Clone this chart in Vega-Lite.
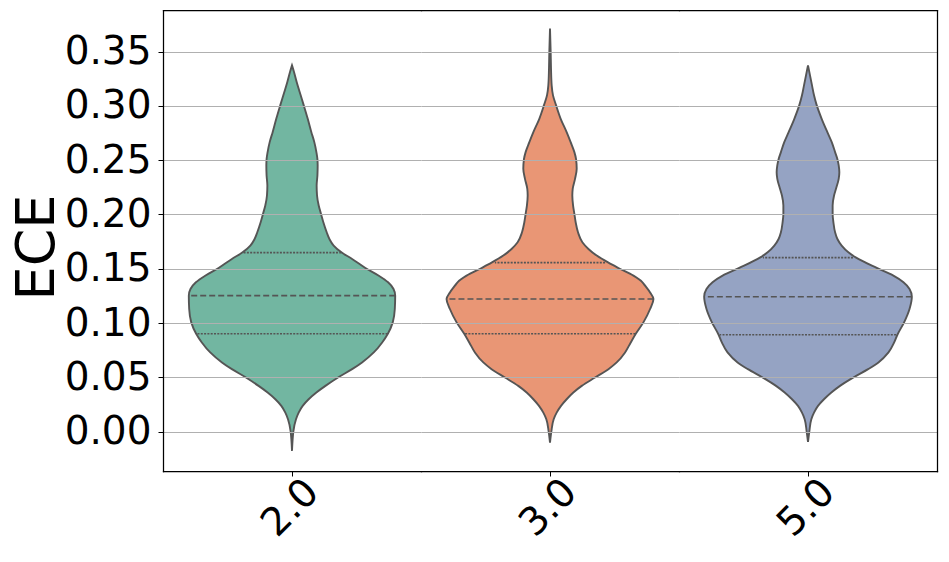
{
  "$schema": "https://vega.github.io/schema/vega-lite/v6.json",
  "padding": {"left": 10, "top": 10, "right": 9, "bottom": 5},
  "spacing": 0,
  "bounds": "flush",
  "config": {
    "view": {"stroke": null},
    "font": "DejaVu Sans",
    "axis": {"labelFont": "DejaVu Sans", "titleFont": "DejaVu Sans", "domainColor": "black", "domainWidth": 1.25, "domainCap": "square", "tickColor": "black", "gridColor": "#b0b0b0", "gridWidth": 1}
  },
  "datasets": {
    "violin": [
      {"cat": "2.0", "y": -0.0178, "w": 0},
      {"cat": "2.0", "y": -0.0071, "w": 0.005},
      {"cat": "2.0", "y": 0.0, "w": 0.0103},
      {"cat": "2.0", "y": 0.0114, "w": 0.031},
      {"cat": "2.0", "y": 0.0175, "w": 0.0517},
      {"cat": "2.0", "y": 0.0237, "w": 0.0828},
      {"cat": "2.0", "y": 0.0298, "w": 0.129},
      {"cat": "2.0", "y": 0.036, "w": 0.189},
      {"cat": "2.0", "y": 0.0421, "w": 0.259},
      {"cat": "2.0", "y": 0.0498, "w": 0.357},
      {"cat": "2.0", "y": 0.0575, "w": 0.466},
      {"cat": "2.0", "y": 0.0637, "w": 0.543},
      {"cat": "2.0", "y": 0.0729, "w": 0.634},
      {"cat": "2.0", "y": 0.0821, "w": 0.699},
      {"cat": "2.0", "y": 0.0901, "w": 0.743},
      {"cat": "2.0", "y": 0.1006, "w": 0.781},
      {"cat": "2.0", "y": 0.1129, "w": 0.797},
      {"cat": "2.0", "y": 0.1252, "w": 0.8},
      {"cat": "2.0", "y": 0.1313, "w": 0.787},
      {"cat": "2.0", "y": 0.1375, "w": 0.745},
      {"cat": "2.0", "y": 0.1436, "w": 0.673},
      {"cat": "2.0", "y": 0.1507, "w": 0.569},
      {"cat": "2.0", "y": 0.159, "w": 0.466},
      {"cat": "2.0", "y": 0.1651, "w": 0.383},
      {"cat": "2.0", "y": 0.1713, "w": 0.323},
      {"cat": "2.0", "y": 0.1774, "w": 0.29},
      {"cat": "2.0", "y": 0.1836, "w": 0.269},
      {"cat": "2.0", "y": 0.1928, "w": 0.243},
      {"cat": "2.0", "y": 0.2005, "w": 0.225},
      {"cat": "2.0", "y": 0.2082, "w": 0.207},
      {"cat": "2.0", "y": 0.2174, "w": 0.194},
      {"cat": "2.0", "y": 0.2266, "w": 0.191},
      {"cat": "2.0", "y": 0.2359, "w": 0.197},
      {"cat": "2.0", "y": 0.2451, "w": 0.199},
      {"cat": "2.0", "y": 0.2509, "w": 0.197},
      {"cat": "2.0", "y": 0.2574, "w": 0.189},
      {"cat": "2.0", "y": 0.2666, "w": 0.173},
      {"cat": "2.0", "y": 0.2758, "w": 0.15},
      {"cat": "2.0", "y": 0.2881, "w": 0.122},
      {"cat": "2.0", "y": 0.3007, "w": 0.0906},
      {"cat": "2.0", "y": 0.3127, "w": 0.0595},
      {"cat": "2.0", "y": 0.322, "w": 0.0362},
      {"cat": "2.0", "y": 0.3312, "w": 0.0155},
      {"cat": "2.0", "y": 0.3373, "w": 0},
      {"cat": "3.0", "y": -0.0102, "w": 0},
      {"cat": "3.0", "y": 0.0, "w": 0.0103},
      {"cat": "3.0", "y": 0.0114, "w": 0.0285},
      {"cat": "3.0", "y": 0.0175, "w": 0.0517},
      {"cat": "3.0", "y": 0.0237, "w": 0.0854},
      {"cat": "3.0", "y": 0.0298, "w": 0.129},
      {"cat": "3.0", "y": 0.036, "w": 0.181},
      {"cat": "3.0", "y": 0.0421, "w": 0.246},
      {"cat": "3.0", "y": 0.0498, "w": 0.349},
      {"cat": "3.0", "y": 0.0575, "w": 0.453},
      {"cat": "3.0", "y": 0.0637, "w": 0.517},
      {"cat": "3.0", "y": 0.0729, "w": 0.582},
      {"cat": "3.0", "y": 0.0821, "w": 0.626},
      {"cat": "3.0", "y": 0.0901, "w": 0.665},
      {"cat": "3.0", "y": 0.1006, "w": 0.724},
      {"cat": "3.0", "y": 0.1129, "w": 0.776},
      {"cat": "3.0", "y": 0.1221, "w": 0.802},
      {"cat": "3.0", "y": 0.1282, "w": 0.776},
      {"cat": "3.0", "y": 0.1344, "w": 0.737},
      {"cat": "3.0", "y": 0.1375, "w": 0.717},
      {"cat": "3.0", "y": 0.1436, "w": 0.647},
      {"cat": "3.0", "y": 0.1507, "w": 0.53},
      {"cat": "3.0", "y": 0.1556, "w": 0.453},
      {"cat": "3.0", "y": 0.1621, "w": 0.362},
      {"cat": "3.0", "y": 0.1682, "w": 0.298},
      {"cat": "3.0", "y": 0.1744, "w": 0.251},
      {"cat": "3.0", "y": 0.1836, "w": 0.217},
      {"cat": "3.0", "y": 0.1928, "w": 0.199},
      {"cat": "3.0", "y": 0.2005, "w": 0.189},
      {"cat": "3.0", "y": 0.2082, "w": 0.179},
      {"cat": "3.0", "y": 0.2174, "w": 0.173},
      {"cat": "3.0", "y": 0.2236, "w": 0.176},
      {"cat": "3.0", "y": 0.2328, "w": 0.194},
      {"cat": "3.0", "y": 0.242, "w": 0.207},
      {"cat": "3.0", "y": 0.2509, "w": 0.202},
      {"cat": "3.0", "y": 0.2574, "w": 0.189},
      {"cat": "3.0", "y": 0.2666, "w": 0.16},
      {"cat": "3.0", "y": 0.2758, "w": 0.129},
      {"cat": "3.0", "y": 0.2881, "w": 0.0828},
      {"cat": "3.0", "y": 0.3007, "w": 0.0466},
      {"cat": "3.0", "y": 0.3097, "w": 0.0233},
      {"cat": "3.0", "y": 0.3189, "w": 0.0129},
      {"cat": "3.0", "y": 0.3343, "w": 0.0078},
      {"cat": "3.0", "y": 0.3496, "w": 0.0052},
      {"cat": "3.0", "y": 0.3712, "w": 0},
      {"cat": "5.0", "y": -0.0095, "w": 0},
      {"cat": "5.0", "y": 0.0, "w": 0.0103},
      {"cat": "5.0", "y": 0.0114, "w": 0.0259},
      {"cat": "5.0", "y": 0.0175, "w": 0.0466},
      {"cat": "5.0", "y": 0.0237, "w": 0.0776},
      {"cat": "5.0", "y": 0.0298, "w": 0.124},
      {"cat": "5.0", "y": 0.036, "w": 0.181},
      {"cat": "5.0", "y": 0.0421, "w": 0.248},
      {"cat": "5.0", "y": 0.0498, "w": 0.352},
      {"cat": "5.0", "y": 0.0575, "w": 0.466},
      {"cat": "5.0", "y": 0.0637, "w": 0.546},
      {"cat": "5.0", "y": 0.0729, "w": 0.624},
      {"cat": "5.0", "y": 0.0821, "w": 0.668},
      {"cat": "5.0", "y": 0.0892, "w": 0.693},
      {"cat": "5.0", "y": 0.1006, "w": 0.745},
      {"cat": "5.0", "y": 0.1129, "w": 0.787},
      {"cat": "5.0", "y": 0.1242, "w": 0.805},
      {"cat": "5.0", "y": 0.1313, "w": 0.787},
      {"cat": "5.0", "y": 0.1375, "w": 0.74},
      {"cat": "5.0", "y": 0.1436, "w": 0.662},
      {"cat": "5.0", "y": 0.1507, "w": 0.533},
      {"cat": "5.0", "y": 0.1602, "w": 0.373},
      {"cat": "5.0", "y": 0.1651, "w": 0.313},
      {"cat": "5.0", "y": 0.1713, "w": 0.261},
      {"cat": "5.0", "y": 0.1774, "w": 0.228},
      {"cat": "5.0", "y": 0.1836, "w": 0.21},
      {"cat": "5.0", "y": 0.1928, "w": 0.197},
      {"cat": "5.0", "y": 0.2005, "w": 0.191},
      {"cat": "5.0", "y": 0.2082, "w": 0.191},
      {"cat": "5.0", "y": 0.2174, "w": 0.202},
      {"cat": "5.0", "y": 0.2236, "w": 0.217},
      {"cat": "5.0", "y": 0.2328, "w": 0.238},
      {"cat": "5.0", "y": 0.2389, "w": 0.243},
      {"cat": "5.0", "y": 0.2451, "w": 0.238},
      {"cat": "5.0", "y": 0.2509, "w": 0.228},
      {"cat": "5.0", "y": 0.2574, "w": 0.21},
      {"cat": "5.0", "y": 0.2666, "w": 0.184},
      {"cat": "5.0", "y": 0.2758, "w": 0.15},
      {"cat": "5.0", "y": 0.2881, "w": 0.106},
      {"cat": "5.0", "y": 0.3007, "w": 0.0673},
      {"cat": "5.0", "y": 0.3097, "w": 0.0466},
      {"cat": "5.0", "y": 0.3189, "w": 0.031},
      {"cat": "5.0", "y": 0.3281, "w": 0.0155},
      {"cat": "5.0", "y": 0.3373, "w": 0}
    ],
    "quart": [
      {"cat": "2.0", "stat": "q1", "y": 0.0901, "w": 0.741},
      {"cat": "2.0", "stat": "median", "y": 0.1252, "w": 0.8},
      {"cat": "2.0", "stat": "q3", "y": 0.1648, "w": 0.382},
      {"cat": "3.0", "stat": "q1", "y": 0.0901, "w": 0.662},
      {"cat": "3.0", "stat": "median", "y": 0.1221, "w": 0.802},
      {"cat": "3.0", "stat": "q3", "y": 0.1556, "w": 0.427},
      {"cat": "5.0", "stat": "q1", "y": 0.0892, "w": 0.683},
      {"cat": "5.0", "stat": "median", "y": 0.1242, "w": 0.805},
      {"cat": "5.0", "stat": "q3", "y": 0.1602, "w": 0.349}
    ]
  },
  "hconcat": [
    {
      "width": 258, "height": 461,
      "encoding": {
        "y": {"field": "y", "type": "quantitative", "scale": {"domain": [-0.0363, 0.3883], "nice": false, "zero": false},
          "axis": {"orient": "left", "values": [0, 0.05, 0.1, 0.15, 0.2, 0.25, 0.3, 0.35], "format": ".2f", "grid": true, "zindex": 1, "title": "ECE", "titleFontSize": 54, "titleFontWeight": "normal", "titleColor": "black", "titlePadding": 0, "titleY": 237, "labelFontSize": 39, "labelColor": "black", "tickSize": 5, "tickWidth": 1, "labelPadding": 7}}
      },
      "layer": [
        {
          "data": {"name": "violin"},
          "transform": [{"filter": {"field": "cat", "equal": "2.0"}}],
          "mark": {"type": "area", "orient": "horizontal", "interpolate": "monotone", "stroke": "#555555", "strokeWidth": 1.9},
          "encoding": {
            "x": {"field": "w", "type": "quantitative", "stack": "center", "scale": {"domain": [-0.1, 0.9], "nice": false, "zero": false},
              "axis": {"orient": "bottom", "values": [0.4], "labelExpr": "'2.0'", "title": null, "grid": false, "tickSize": 5, "tickWidth": 1, "labelAngle": -45, "labelAlign": "center", "labelBaseline": "middle", "labelPadding": 31.5, "labelOffset": -2, "labelFontSize": 39, "labelColor": "black", "labelFlush": false, "labelOverlap": false}},
            "color": {"field": "cat", "type": "nominal", "scale": {"domain": ["2.0", "3.0", "5.0"], "range": ["#72b6a1", "#e99675", "#95a3c3"]}, "legend": null}
          }
        },
        {
          "data": {"name": "quart"},
          "transform": [{"filter": {"field": "cat", "equal": "2.0"}}],
          "mark": {"type": "rule", "orient": "horizontal", "color": "#555555", "strokeWidth": 1.7},
          "encoding": {
            "x": {"field": "w", "type": "quantitative", "stack": "center", "axis": {"orient": "top", "domain": true, "ticks": false, "labels": false, "grid": false, "title": null}},
            "strokeDash": {"field": "stat", "type": "nominal", "scale": {"domain": ["median", "q1", "q3"], "range": [[6, 3], [2, 1.3], [2, 1.3]]}, "legend": null}
          }
        }
      ],
      "resolve": {"axis": {"x": "independent"}}
    },
    {
      "width": 258, "height": 461,
      "encoding": {
        "y": {"field": "y", "type": "quantitative", "scale": {"domain": [-0.0363, 0.3883], "nice": false, "zero": false},
          "axis": {"values": [0, 0.05, 0.1, 0.15, 0.2, 0.25, 0.3, 0.35], "grid": true, "zindex": 1, "domain": false, "ticks": false, "labels": false, "title": null}}
      },
      "layer": [
        {
          "data": {"name": "violin"},
          "transform": [{"filter": {"field": "cat", "equal": "3.0"}}],
          "mark": {"type": "area", "orient": "horizontal", "interpolate": "monotone", "stroke": "#555555", "strokeWidth": 1.9},
          "encoding": {
            "x": {"field": "w", "type": "quantitative", "stack": "center", "scale": {"domain": [-0.099, 0.901], "nice": false, "zero": false},
              "axis": {"orient": "bottom", "values": [0.401], "labelExpr": "'3.0'", "title": null, "grid": false, "tickSize": 5, "tickWidth": 1, "labelAngle": -45, "labelAlign": "center", "labelBaseline": "middle", "labelPadding": 31.5, "labelOffset": -2, "labelFontSize": 39, "labelColor": "black", "labelFlush": false, "labelOverlap": false}},
            "color": {"field": "cat", "type": "nominal", "scale": {"domain": ["2.0", "3.0", "5.0"], "range": ["#72b6a1", "#e99675", "#95a3c3"]}, "legend": null}
          }
        },
        {
          "data": {"name": "quart"},
          "transform": [{"filter": {"field": "cat", "equal": "3.0"}}],
          "mark": {"type": "rule", "orient": "horizontal", "color": "#555555", "strokeWidth": 1.7},
          "encoding": {
            "x": {"field": "w", "type": "quantitative", "stack": "center", "axis": {"orient": "top", "domain": true, "ticks": false, "labels": false, "grid": false, "title": null}},
            "strokeDash": {"field": "stat", "type": "nominal", "scale": {"domain": ["median", "q1", "q3"], "range": [[6, 3], [2, 1.3], [2, 1.3]]}, "legend": null}
          }
        }
      ],
      "resolve": {"axis": {"x": "independent"}}
    },
    {
      "width": 258, "height": 461,
      "encoding": {
        "y": {"field": "y", "type": "quantitative", "scale": {"domain": [-0.0363, 0.3883], "nice": false, "zero": false},
          "axis": {"orient": "right", "values": [0, 0.05, 0.1, 0.15, 0.2, 0.25, 0.3, 0.35], "grid": true, "zindex": 1, "domain": true, "ticks": false, "labels": false, "title": null}}
      },
      "layer": [
        {
          "data": {"name": "violin"},
          "transform": [{"filter": {"field": "cat", "equal": "5.0"}}],
          "mark": {"type": "area", "orient": "horizontal", "interpolate": "monotone", "stroke": "#555555", "strokeWidth": 1.9},
          "encoding": {
            "x": {"field": "w", "type": "quantitative", "stack": "center", "scale": {"domain": [-0.0975, 0.9025], "nice": false, "zero": false},
              "axis": {"orient": "bottom", "values": [0.4025], "labelExpr": "'5.0'", "title": null, "grid": false, "tickSize": 5, "tickWidth": 1, "labelAngle": -45, "labelAlign": "center", "labelBaseline": "middle", "labelPadding": 31.5, "labelOffset": -2, "labelFontSize": 39, "labelColor": "black", "labelFlush": false, "labelOverlap": false}},
            "color": {"field": "cat", "type": "nominal", "scale": {"domain": ["2.0", "3.0", "5.0"], "range": ["#72b6a1", "#e99675", "#95a3c3"]}, "legend": null}
          }
        },
        {
          "data": {"name": "quart"},
          "transform": [{"filter": {"field": "cat", "equal": "5.0"}}],
          "mark": {"type": "rule", "orient": "horizontal", "color": "#555555", "strokeWidth": 1.7},
          "encoding": {
            "x": {"field": "w", "type": "quantitative", "stack": "center", "axis": {"orient": "top", "domain": true, "ticks": false, "labels": false, "grid": false, "title": null}},
            "strokeDash": {"field": "stat", "type": "nominal", "scale": {"domain": ["median", "q1", "q3"], "range": [[6, 3], [2, 1.3], [2, 1.3]]}, "legend": null}
          }
        }
      ],
      "resolve": {"axis": {"x": "independent"}}
    }
  ]
}
